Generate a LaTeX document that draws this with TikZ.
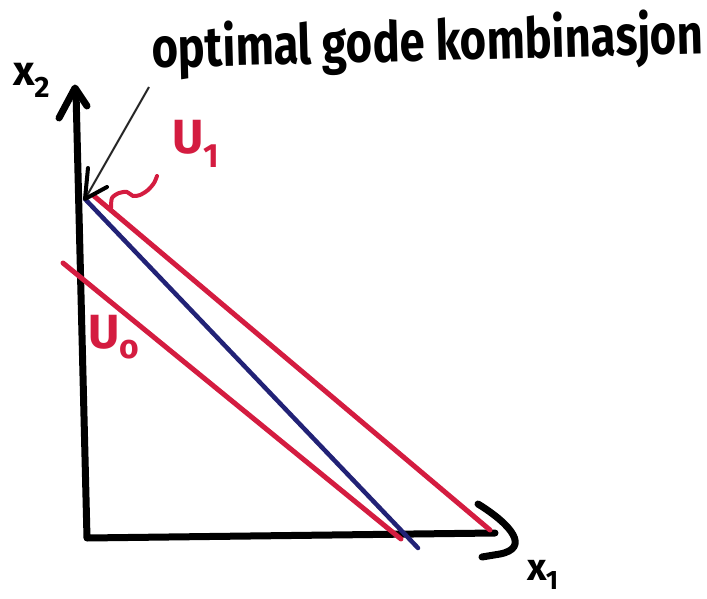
\documentclass[tikz,border=0pt]{standalone}
\usepackage{fontspec}
\setmainfont{Fira Sans}
\begin{document}
\begin{tikzpicture}[x=1pt,y=-1pt]
\definecolor{ured}{RGB}{212,28,64}
\definecolor{bblue}{RGB}{34,34,118}
\tikzset{
  axisline/.style={line width=7pt, line cap=round, line join=round, black},
  redline/.style={line width=5pt, ured, line cap=round},
  blueline/.style={line width=4.5pt, bblue, line cap=round},
  hand/.style={inner sep=0pt, font=\bfseries},
}
\fill[white] (0,0) rectangle (707,599);
\useasboundingbox (0,0) rectangle (707,599);
% axes
\coordinate (Y) at (76,92);
\coordinate (O) at (87,538);
\coordinate (X) at (495,533);
\draw[axisline] (Y) -- (O) -- (X);
\coordinate (ya) at (59,118);
\coordinate (yt) at (75,88);
\coordinate (yb) at (87,106);
\draw[axisline] (ya) -- (yt) -- (yb);
\coordinate (xa) at (478,504);
\coordinate (xb) at (482,557);
\draw[axisline] (xa) .. controls (512,525) and (530,548) .. (500,554) -- (xb);
% lines
\coordinate (P) at (85,199);
\coordinate (Bend) at (418,548);
\draw[blueline] (P) -- (Bend);
\coordinate (U1s) at (94,196);
\coordinate (U1e) at (490,530);
\draw[redline] (U1s) -- (U1e);
\coordinate (U0s) at (63,263);
\coordinate (U0e) at (401,539);
\draw[redline] (U0s) -- (U0e);
% squiggle
\draw[ured, line width=4pt, line cap=round, line join=round]
  plot[smooth] coordinates {(111,208) (112,198) (119,193) (127,192) (133,196) (140,195) (148,190) (154,183) (157,176)};
% pointer
\coordinate (T0) at (149,87);
\draw[black!85, line width=2pt] (T0) -- (P);
\draw[black, line width=4pt, line cap=round, line join=round] (88,168) -- (P) -- (107,187);
% labels
\node[hand, anchor=base west, rotate=1.5] (opt) at (152,68) {\fontsize{56}{60}\selectfont\scalebox{0.81}[1]{optimal gode kombinasjon}};
\node[hand] (x2) at (32,80) {\fontsize{42}{46}\selectfont x\kern-1pt$_{\mathbf{2}}$};
\node[hand] (x1) at (543,575) {\fontsize{38}{42}\selectfont x\kern-1pt$_{\mathbf{1}}$};
\node[hand, ured] (u1) at (196,144) {\fontsize{48}{52}\selectfont U\kern-1pt$_{\mathbf{1}}$};
\node[hand, ured] (u0) at (114,337) {\fontsize{48}{52}\selectfont U\kern-1pt$_{\mathbf{o}}$};
\end{tikzpicture}
\end{document}
